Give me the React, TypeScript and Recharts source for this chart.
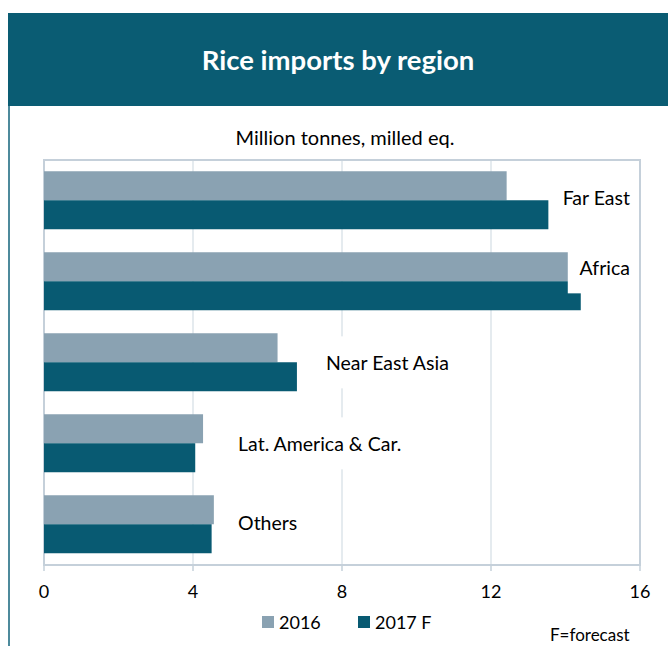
import React from "react";
import {
  BarChart,
  Bar,
  XAxis,
  YAxis,
  CartesianGrid,
  ReferenceArea,
  LabelList,
} from "recharts";

// ---- data ----
const regions = ["Far East", "Africa", "Near East Asia", "Lat. America & Car.", "Others"];
const imports2016 = [12.42, 14.12, 6.27, 4.27, 4.56];
const imports2017F = [13.54, 14.41, 6.79, 4.06, 4.5];
const xTicks = [0, 4, 8, 12, 16];
const seriesNames = ["2016", "2017 F"];

const data = regions.map((region, i) => ({
  region,
  v2016: imports2016[i],
  v2017: imports2017F[i],
}));

// label placement (in axis units) for the category labels inside the plot
const labelPlacement: Record<string, { anchor: "start" | "end"; at: number; dy: number }> = {
  "Far East": { anchor: "end", at: 15.73, dy: -3 },
  Africa: { anchor: "end", at: 15.73, dy: -14 },
  "Near East Asia": { anchor: "start", at: 7.57, dy: 0 },
  "Lat. America & Car.": { anchor: "start", at: 5.21, dy: 0 },
  Others: { anchor: "start", at: 5.21, dy: -2 },
};

const FONT = "Lato, 'Open Sans', sans-serif";
const C2016 = "#8aa2b2";
const C2017 = "#085a72";
const BANNER = "#0a5c73";
const BORDER = "#c5d0da";
const GRID = "#dde4ea";
const INK = "#000000";

const LABEL_FS = 19.5;

const renderRegionLabel = (props: any) => {
  const { x, y, width, height, index, value } = props;
  const name = String(value);
  const place = labelPlacement[name];
  if (!place) return null;
  const scale = Number(width) / imports2016[index];
  const px = Number(x) + place.at * scale;
  const cy = Number(y) + Number(height) + place.dy;
  const estW = name.length * LABEL_FS * 0.48 + 12;
  const rx = place.anchor === "start" ? px - 6 : px - estW + 6;
  return (
    <g>
      <rect x={rx} y={cy - 26} width={estW} height={52} fill="#ffffff" />
      <text
        x={px}
        y={cy}
        textAnchor={place.anchor}
        dominantBaseline="central"
        fontFamily={FONT}
        fontSize={LABEL_FS}
        fill={INK}
      >
        {name}
      </text>
    </g>
  );
};

export default function App() {
  return (
    <div
      style={{
        position: "absolute",
        left: 0,
        top: 0,
        width: 668,
        height: 646,
        background: "#ffffff",
        fontFamily: FONT,
        overflow: "hidden",
      }}
    >
      <div
        style={{
          position: "absolute",
          left: 8,
          top: 13,
          width: 660,
          height: 93,
          background: BANNER,
          color: "#ffffff",
          fontWeight: 700,
          fontSize: 27.5,
          lineHeight: "93px",
          textAlign: "center",
        }}
      >
        Rice imports by region
      </div>
      <div
        style={{
          position: "absolute",
          left: 8,
          top: 106,
          width: 1.5,
          height: 540,
          background: "#4d8a9c",
        }}
      />
      <div
        style={{
          position: "absolute",
          left: 345,
          top: 137,
          transform: "translate(-50%, -50%)",
          whiteSpace: "nowrap",
          fontSize: 20,
          color: INK,
        }}
      >
        Million tonnes, milled eq.
      </div>

      <div style={{ position: "absolute", left: 0, top: 0 }}>
        <BarChart
          width={668}
          height={646}
          data={data}
          layout="vertical"
          margin={{ top: 160, right: 28, bottom: 51, left: 44 }}
          barCategoryGap="14%"
          barGap={0}
        >
          <CartesianGrid horizontal={false} stroke={GRID} strokeWidth={1.5} />
          <XAxis
            type="number"
            domain={[0, 16]}
            ticks={xTicks}
            height={30}
            axisLine={{ stroke: BORDER, strokeWidth: 2 }}
            tickLine={{ stroke: BORDER, strokeWidth: 1.5 }}
            tickSize={6}
            tickMargin={14}
            tick={{ fontFamily: FONT, fontSize: 18, fill: INK }}
            interval={0}
          />
          <YAxis type="category" dataKey="region" hide />
          <ReferenceArea
            x1={0}
            x2={16}
            fill="none"
            stroke={BORDER}
            strokeWidth={2}
            ifOverflow="visible"
          />
          <Bar dataKey="v2016" name={seriesNames[0]} fill={C2016} isAnimationActive={false}>
            <LabelList dataKey="region" content={renderRegionLabel} />
          </Bar>
          <Bar dataKey="v2017" name={seriesNames[1]} fill={C2017} isAnimationActive={false} />
        </BarChart>
      </div>

      {/* legend */}
      <div style={{ position: "absolute", left: 262, top: 616, width: 12, height: 12, background: C2016 }} />
      <div
        style={{ position: "absolute", left: 279, top: 622, transform: "translateY(-50%)", fontSize: 18, color: INK, whiteSpace: "nowrap" }}
      >
        {seriesNames[0]}
      </div>
      <div style={{ position: "absolute", left: 358, top: 616, width: 12, height: 12, background: C2017 }} />
      <div
        style={{ position: "absolute", left: 375, top: 622, transform: "translateY(-50%)", fontSize: 18, color: INK, whiteSpace: "nowrap" }}
      >
        {seriesNames[1]}
      </div>
      <div
        style={{ position: "absolute", left: 550, top: 635, transform: "translateY(-50%)", fontSize: 17, lineHeight: "18px", color: INK, whiteSpace: "nowrap" }}
      >
        F=forecast
      </div>
    </div>
  );
}
